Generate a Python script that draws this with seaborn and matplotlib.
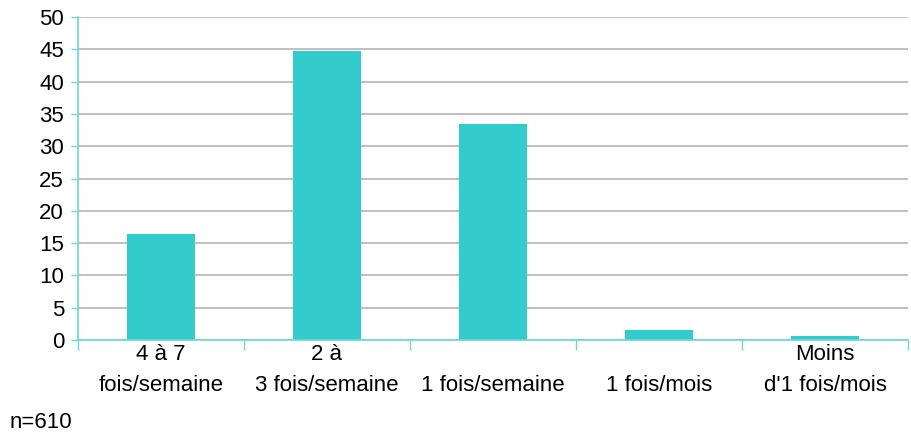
import numpy as np
import pandas as pd
import seaborn as sns
import matplotlib.pyplot as plt

categories = ["4 à 7\nfois/semaine", "2 à\n3 fois/semaine", "1 fois/semaine",
              "1 fois/mois", "Moins\nd'1 fois/mois"]
values = [16.4, 44.8, 33.4, 1.5, 0.6]
y_ticks = [0, 5, 10, 15, 20, 25, 30, 35, 40, 45, 50]
note = "n=610"

df = pd.DataFrame({'Fréquence': categories, 'Pourcentage': values})

sns.set_style('white')
plt.rcParams['font.family'] = ['Liberation Sans', 'DejaVu Sans']
plt.rcParams['text.color'] = 'black'
plt.rcParams['xtick.color'] = 'black'
plt.rcParams['ytick.color'] = 'black'

fig = plt.figure(figsize=(9.11, 4.34), dpi=100)
ax = fig.add_axes([0.0856, 0.2166, 0.9111, 0.7442])

sns.barplot(x='Fréquence', y='Pourcentage', data=df, color='#33CCCC',
            saturation=1, width=0.41, linewidth=0, ax=ax, zorder=3)

ax.set_xlim(-0.5, len(categories) - 0.5)
ax.set_ylim(0, 50)
ax.set_yticks(y_ticks)
ax.yaxis.grid(True, color='#B4B4B4', linewidth=1.2, zorder=0)
ax.set_axisbelow(True)

# single-line labels sit on the second line, like the original
labels = [c if '\n' in c else '\n' + c for c in categories]
ax.set_xticks(range(len(categories)))
ax.set_xticklabels(labels, fontsize=16, linespacing=1.6)
ax.set_xticks(np.arange(-0.5, len(categories), 1), minor=True)
ax.tick_params(axis='x', which='major', bottom=True, length=0, pad=3, labelcolor='black')
ax.tick_params(axis='x', which='minor', bottom=True, length=7, width=1,
               color='#66D9D9', direction='out')
ax.tick_params(axis='y', left=True, length=5, width=1, color='#66D9D9',
               labelsize=16, pad=5, labelcolor='black')

ax.set_xlabel('')
ax.set_ylabel('')
for side in ['top', 'right']:
    ax.spines[side].set_visible(False)
for side in ['left', 'bottom']:
    ax.spines[side].set_color('#66D9D9')
    ax.spines[side].set_linewidth(1.2)
    ax.spines[side].set_zorder(4)

fig.text(0.011, 0.027, note, fontsize=16, ha='left', va='center', color='black')

plt.savefig('out.png', dpi=100)
